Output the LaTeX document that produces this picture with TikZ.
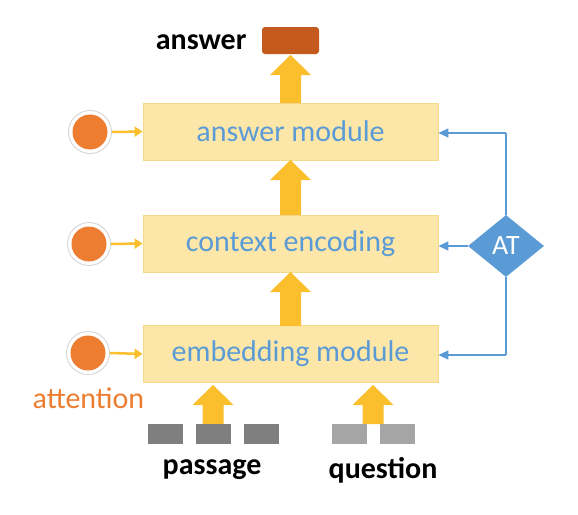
\documentclass[tikz,border=0pt]{standalone}
\usepackage{fontspec}
\setmainfont{Carlito}
\usetikzlibrary{shapes.geometric,arrows.meta}
\definecolor{boxfill}{HTML}{FDE7A8}
\definecolor{boxline}{HTML}{F4D88C}
\definecolor{gold}{HTML}{FBBE2C}
\definecolor{blu}{HTML}{5B9BD5}
\definecolor{orng}{HTML}{ED7D31}
\definecolor{rust}{HTML}{C55A1E}
\definecolor{dgray}{HTML}{7F7F7F}
\definecolor{lgray}{HTML}{A5A5A5}
\tikzset{
  module/.style={draw=boxline, fill=boxfill, line width=0.8pt, minimum width=295pt, minimum height=57pt, inner sep=0pt, text=blu, font=\fontsize{30}{34}\selectfont},
  ring/.style={circle, draw=black!18, line width=0.8pt, fill=white, minimum size=43pt, inner sep=0pt},
  dot/.style={circle, fill=orng, minimum size=35pt, inner sep=0pt},
  thinarrow/.style={draw=gold, line width=2.5pt, -{Triangle[length=8pt,width=10pt]}},
  blueline/.style={draw=blu, line width=1.3pt},
  bluearrow/.style={blueline, -{Triangle[length=10pt,width=9pt]}},
  token/.style={minimum width=35pt, minimum height=20pt, inner sep=0pt},
  lbl/.style={font=\bfseries\fontsize{30}{34}\selectfont, text=black}
}
\newcommand{\blockarr}[3]{% x, ytop, ybottom
  \fill[gold] (#1-10.5,#2+20) -- (#1-20.5,#2+20) -- (#1,#2) -- (#1+20.5,#2+20) -- (#1+10.5,#2+20) -- (#1+10.5,#3) -- (#1-10.5,#3) -- cycle;
}
\begin{document}
\begin{tikzpicture}[x=1pt,y=-1pt]
\useasboundingbox (0,0) rectangle (578,514);
% modules
\node[module] (am) at (290.5,131.5) {answer module};
\node[module] (ce) at (290.5,243.5) {context encoding};
\node[module] (em) at (290.5,354) {embedding module};
% answer output
\node[fill=rust, rounded corners=3pt, minimum width=57pt, minimum height=27pt, inner sep=0pt] (out) at (290.5,40.5) {};
\node[lbl, anchor=east] (outlbl) at (250,42) {answer};
% block arrows
\blockarr{290.5}{55}{103}
\blockarr{290.5}{160}{215}
\blockarr{290.5}{272}{326}
\blockarr{213}{385}{424}
\blockarr{373}{385}{424}
% circles
\node[ring] (r1) at (90,132) {};
\node[dot] (c1) at (r1) {};
\node[ring] (r2) at (89,244) {};
\node[dot] (c2) at (r2) {};
\node[ring] (r3) at (88,353) {};
\node[dot] (c3) at (r3) {};
\draw[thinarrow] (r1.east) -- (am.west);
\draw[thinarrow] (r2.east) -- (ce.west);
\draw[thinarrow] (r3.east) -- (em.west);
\node[text=orng, font=\fontsize{30}{34}\selectfont] (attn) at (88.5,398) {attention};
% tokens
\node[token, fill=dgray] (p1) at (165.5,434) {};
\node[token, fill=dgray] (p2) at (213.5,434) {};
\node[token, fill=dgray] (p3) at (261,434) {};
\node[token, fill=lgray] (q1) at (349,434) {};
\node[token, fill=lgray] (q2) at (397.5,434) {};
\node[lbl] (plbl) at (212,470) {passage};
\node[lbl] (qlbl) at (383,470) {question};
% AT diamond
\node[diamond, fill=blu, text=white, minimum width=76pt, minimum height=62pt, inner sep=0pt, font=\fontsize{28}{32}\selectfont] (at) at (506,246) {AT};
\coordinate (t1) at (506,133);
\coordinate (t3) at (506,355);
\draw[blueline] (at.north) -- (t1);
\draw[bluearrow] (t1) -- (am.east |- t1);
\draw[bluearrow] (at.west) -- (ce.east |- at.west);
\draw[blueline] (at.south) -- (t3);
\draw[bluearrow] (t3) -- (em.east |- t3);
\end{tikzpicture}
\end{document}
